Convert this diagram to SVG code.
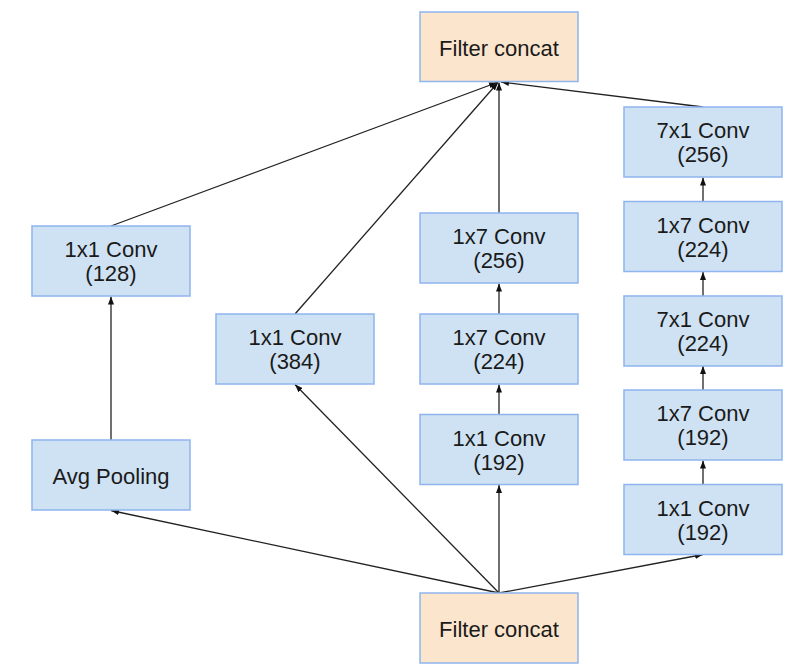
<svg xmlns="http://www.w3.org/2000/svg" width="795" height="669" viewBox="0 0 795 669">
<style>
.b{fill:#cfe2f3;stroke:#8fb4ee;stroke-width:1.5}
.o{fill:#fce5cd;stroke:#8fb4ee;stroke-width:1.5}
text{font-family:"Liberation Sans",Arial,sans-serif;font-size:22px;fill:#1a1a1a;text-anchor:middle}
.c line{stroke:#222;stroke-width:1.3;marker-end:url(#ah)}
</style>
<defs>
<marker id="ah" viewBox="0 0 8 6" refX="8" refY="3" markerWidth="8" markerHeight="6" markerUnits="userSpaceOnUse" orient="auto">
<path d="M0,0 L8,3 L0,6 z" fill="#111"/>
</marker>
</defs>
<rect width="795" height="669" fill="#fff"/>
<g class="c">
<line x1="499" y1="593" x2="111" y2="510.5"/>
<line x1="499" y1="593" x2="295" y2="384.5"/>
<line x1="499" y1="593" x2="499" y2="485"/>
<line x1="499" y1="593" x2="703" y2="554.5"/>
<line x1="111" y1="440" x2="111" y2="296.5"/>
<line x1="499" y1="414" x2="499" y2="384.5"/>
<line x1="499" y1="314" x2="499" y2="283.5"/>
<line x1="703" y1="484" x2="703" y2="460.5"/>
<line x1="703" y1="390" x2="703" y2="366"/>
<line x1="703" y1="296" x2="703" y2="272"/>
<line x1="703" y1="201" x2="703" y2="177.5"/>
<line x1="111" y1="226" x2="497" y2="82.5"/>
<line x1="295" y1="314" x2="498" y2="82.5"/>
<line x1="499" y1="213" x2="499" y2="82.5"/>
<line x1="703" y1="107" x2="501" y2="82"/>
</g>
<g id="concat_top"><rect class="o" x="420" y="12" width="158" height="69.5"/><text x="499" y="55.5">Filter concat</text></g>
<g id="concat_bottom"><rect class="o" x="420" y="593" width="158" height="70"/><text x="499" y="637">Filter concat</text></g>
<g id="conv1x1_128"><rect class="b" x="32" y="226" width="158" height="70"/><text x="111" y="257">1x1 Conv</text><text x="111" y="281">(128)</text></g>
<g id="avgpool"><rect class="b" x="32" y="440" width="158" height="70"/><text x="111" y="484">Avg Pooling</text></g>
<g id="conv1x1_384"><rect class="b" x="216" y="314" width="158" height="70"/><text x="295" y="345">1x1 Conv</text><text x="295" y="369">(384)</text></g>
<g id="conv1x7_256"><rect class="b" x="420" y="213" width="158" height="70"/><text x="499" y="244">1x7 Conv</text><text x="499" y="268">(256)</text></g>
<g id="conv1x7_224"><rect class="b" x="420" y="314" width="158" height="70"/><text x="499" y="345">1x7 Conv</text><text x="499" y="369">(224)</text></g>
<g id="conv1x1_192a"><rect class="b" x="420" y="414.5" width="158" height="70"/><text x="499" y="445.5">1x1 Conv</text><text x="499" y="469.5">(192)</text></g>
<g id="conv7x1_256"><rect class="b" x="624" y="107" width="158" height="70"/><text x="703" y="138">7x1 Conv</text><text x="703" y="162">(256)</text></g>
<g id="conv1x7_224b"><rect class="b" x="624" y="201.5" width="158" height="70"/><text x="703" y="232.5">1x7 Conv</text><text x="703" y="256.5">(224)</text></g>
<g id="conv7x1_224"><rect class="b" x="624" y="296" width="158" height="70"/><text x="703" y="327">7x1 Conv</text><text x="703" y="351">(224)</text></g>
<g id="conv1x7_192"><rect class="b" x="624" y="390" width="158" height="70"/><text x="703" y="421">1x7 Conv</text><text x="703" y="445">(192)</text></g>
<g id="conv1x1_192b"><rect class="b" x="624" y="484.5" width="158" height="70"/><text x="703" y="515.5">1x1 Conv</text><text x="703" y="539.5">(192)</text></g>
</svg>
